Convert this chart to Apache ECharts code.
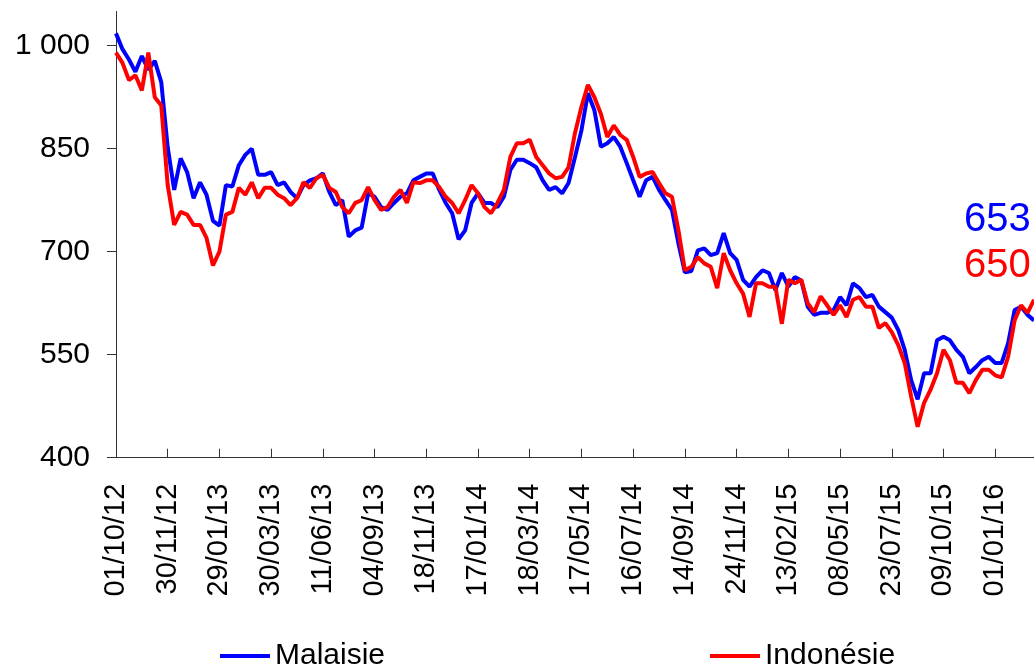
<!DOCTYPE html>
<html>
<head>
<meta charset="utf-8">
<script src="https://cdn.jsdelivr.net/npm/echarts@6/dist/echarts.min.js"></script>
<style>
html,body{margin:0;padding:0;background:#fff;}
#chart{width:1034px;height:667px;}
</style>
</head>
<body>
<div id="chart"></div>
<script>
// X tick labels (one every 8 samples)
const tickLabels = ['01/10/12','30/11/12','29/01/13','30/03/13','11/06/13','04/09/13','18/11/13','17/01/14','18/03/14','17/05/14','16/07/14','14/09/14','24/11/14','13/02/15','08/05/15','23/07/15','09/10/15','01/01/16'];
const samplesPerTick = 8;
const yTicks = [400, 550, 700, 850, 1000];
const seriesNames = ['Malaisie', 'Indonésie'];
const lastValues = ['653', '650'];

const malaisie = [1018,995,980,962,985,965,978,947,852,790,836,816,778,801,783,745,738,797,795,826,
841,850,812,812,816,797,801,787,778,797,804,807,814,787,768,775,722,731,735,785,
780,765,761,771,780,785,804,809,814,814,790,771,756,718,731,771,785,771,771,765,
780,819,834,834,829,823,804,790,794,785,800,838,877,931,906,853,858,867,853,829,
804,780,804,809,790,775,761,712,670,672,702,705,695,698,727,698,688,659,649,663,
673,669,644,669,649,663,658,620,608,611,611,615,634,622,654,647,634,637,620,612,
604,586,557,513,485,523,523,571,576,571,557,547,523,532,542,547,538,538,567,615,
620,608,600];

const indonesie = [990,975,950,957,935,990,925,913,797,739,758,754,739,739,720,680,700,754,758,793,
783,801,778,793,793,783,778,768,778,801,793,807,812,793,787,765,756,771,775,794,
775,761,765,780,790,771,801,800,804,804,794,780,771,756,775,797,785,765,756,771,
790,838,858,858,863,838,826,814,807,809,823,873,911,943,925,901,867,884,870,863,
838,809,814,816,800,785,780,731,673,678,692,683,678,647,698,673,654,639,605,654,
654,649,649,595,659,654,659,625,612,635,622,608,622,605,630,634,620,620,589,596,
583,564,538,489,445,480,499,523,557,542,509,509,494,513,528,528,520,517,547,600,
622,611,630];

const FONT = "'Liberation Sans', Arial, sans-serif";
const tickPositions = tickLabels.map((_, i) => i * samplesPerTick);
const toPairs = arr => arr.map((v, i) => [i, v]);

const chart = echarts.init(document.getElementById('chart'), null, {renderer: 'canvas'});
chart.setOption({
  animation: false,
  backgroundColor: '#ffffff',
  grid: {left: 116, right: 0, top: 11.4, bottom: 209.3, containLabel: false},
  xAxis: {
    type: 'value',
    min: 0,
    max: malaisie.length - 1,
    splitLine: {show: false},
    axisLine: {show: true, onZero: false, lineStyle: {color: '#333', width: 1}},
    axisTick: {show: true, inside: true, length: 9, customValues: tickPositions, lineStyle: {color: '#333'}},
    axisLabel: {
      customValues: tickPositions,
      rotate: 90,
      margin: 26,
      fontSize: 29,
      fontFamily: FONT,
      color: '#000',
      formatter: v => tickLabels[Math.round(v / samplesPerTick)] || ''
    }
  },
  yAxis: {
    type: 'value',
    min: 400,
    max: 1050,
    splitLine: {show: false},
    axisLine: {show: true, lineStyle: {color: '#333', width: 1}},
    axisTick: {show: true, inside: false, length: 9, customValues: yTicks, lineStyle: {color: '#333'}},
    axisLabel: {
      customValues: yTicks,
      margin: 26,
      fontSize: 30,
      fontFamily: FONT,
      color: '#000',
      formatter: v => String(v).replace(/\B(?=(\d{3})+(?!\d))/g, ' ')
    }
  },
  legend: [
    {
      data: [seriesNames[0]], left: 215, top: 636, itemWidth: 50, itemHeight: 4, icon: 'rect',
      itemGap: 0, textStyle: {fontSize: 30, fontFamily: FONT, color: '#000', padding: [0,0,0,0]}
    },
    {
      data: [seriesNames[1]], left: 705, top: 636, itemWidth: 50, itemHeight: 4, icon: 'rect',
      itemGap: 0, textStyle: {fontSize: 30, fontFamily: FONT, color: '#000', padding: [0,0,0,0]}
    }
  ],
  graphic: [
    {type: 'text', left: 964, top: 200, style: {text: lastValues[0], font: '40px ' + FONT, fill: '#0000ff'}},
    {type: 'text', left: 964, top: 246, style: {text: lastValues[1], font: '40px ' + FONT, fill: '#ff0000'}}
  ],
  series: [
    {
      name: seriesNames[0], type: 'line', data: toPairs(malaisie), showSymbol: false, symbol: 'none',
      lineStyle: {color: '#0000ff', width: 4}, itemStyle: {color: '#0000ff'}, clip: true
    },
    {
      name: seriesNames[1], type: 'line', data: toPairs(indonesie), showSymbol: false, symbol: 'none',
      lineStyle: {color: '#ff0000', width: 4}, itemStyle: {color: '#ff0000'}, clip: true
    }
  ]
});
</script>
</body>
</html>
